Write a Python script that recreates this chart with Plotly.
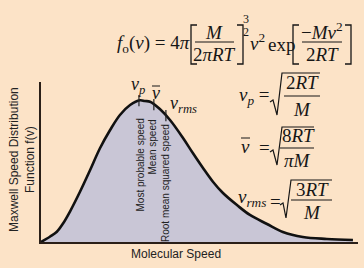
import numpy as np
import plotly.graph_objects as go

W, H = 364, 268

# ---- data (arbitrary speed units, relative f(v)) ----
speed = [0, 28, 50, 70, 91, 123, 155, 186, 218, 249, 281, 312, 328, 344, 375, 407,
         448, 479, 511, 543, 574, 618, 659, 713, 763, 826, 902, 984]
fv = [0.0, 0.033, 0.064, 0.117, 0.189, 0.314, 0.45, 0.586, 0.70, 0.794, 0.856, 0.886,
      0.881, 0.877, 0.831, 0.7625, 0.65, 0.556, 0.4625, 0.375, 0.306, 0.231, 0.169,
      0.1125, 0.0625, 0.031, 0.019, 0.0125]
marker_speeds = [309, 356, 394]
marker_names = ["Most probable speed", "Mean speed", "Root mean squared speed"]

SERIF = "Liberation Serif"
SANS = "Liberation Sans"
INK = "#161616"
BG = "#FCE3C7"


def px(x):
    return x / W


def py(y):
    return 1 - y / H


fig = go.Figure()
fig.add_trace(go.Scatter(x=speed, y=fv, mode="lines", line=dict(color="#111111", width=2.6, shape="spline"),
                         fill="tozeroy", fillcolor="#C9C6D6", hoverinfo="skip"))
my = np.interp(marker_speeds, speed, fv)
fig.add_trace(go.Scatter(x=marker_speeds, y=my, mode="markers",
                         marker=dict(symbol="line-ns-open", size=8, color="#222222",
                                     line=dict(color="#222222", width=1.2)),
                         hoverinfo="skip"))

ann = []


def T(text, x, y, size=19, family=SERIF, xa="center", ya="middle", angle=0, color=INK):
    ann.append(dict(text=text, x=px(x), y=py(y), xref="paper", yref="paper", showarrow=False,
                    xanchor=xa, yanchor=ya, textangle=angle, font=dict(family=family, size=size, color=color)))


shapes = []


def path(pts, w=1.3):
    d = "M " + " L ".join(f"{px(a):.5f},{py(b):.5f}" for a, b in pts)
    shapes.append(dict(type="path", path=d, xref="paper", yref="paper", line=dict(color=INK, width=w)))


# ---- main formula ----
T("<i>f</i><sub>o</sub>(<i>v</i>) = 4<i>π</i>", 153, 44)
path([(197, 25), (191, 25), (191, 64), (197, 64)])
T("<i>M</i>", 214, 32)
path([(195, 42), (234, 42)], 1.1)
T("2<i>πRT</i>", 214, 55)
path([(237, 25), (243, 25), (243, 64), (237, 64)])
T("3", 246, 19, size=12)
T("2", 246, 32, size=12)
T("<i>v</i><sup>2</sup>", 257, 42)
T("exp", 281, 45)
path([(299, 25), (293, 25), (293, 64), (299, 64)])
T("−<i>Mv</i><sup>2</sup>", 322, 31)
path([(302, 42), (342, 42)], 1.1)
T("2<i>RT</i>", 322, 55)
path([(345, 25), (351, 25), (351, 64), (345, 64)])

# ---- right formulas ----
T("<i>v</i><sub><i>p</i></sub> =", 254, 96)
path([(270, 102), (273, 100), (277, 115), (282, 73), (320, 73)], 1.2)
T("2<i>RT</i>", 302, 82)
path([(284, 96), (320, 96)], 1.1)
T("<i>M</i>", 302, 109)

T("<i>v</i>", 245, 146)
path([(241, 138), (250, 138)], 1.0)
T("=", 264, 147)
path([(270, 152), (273, 150), (277, 165), (282, 127), (314, 127)], 1.2)
T("8<i>RT</i>", 298, 135)
path([(280, 148), (314, 148)], 1.1)
T("<i>πM</i>", 297, 160)

T("<i>v</i><sub><i>rms</i></sub>", 252, 198)
T("=", 275, 201)
path([(280, 205), (283, 203), (286, 218), (291, 180), (332, 180)], 1.2)
T("3<i>RT</i>", 312, 189)
path([(291, 200), (332, 200)], 1.1)
T("<i>M</i>", 312, 212)

# ---- marker labels ----
T("<i>v</i><sub><i>p</i></sub>", 138, 85, size=18)
T("<i>v</i>", 156, 93, size=18)
path([(152, 86), (160, 86)], 1.0)
T("<i>v</i><sub><i>rms</i></sub>", 183, 104, size=18)

lab_x = [140, 152, 165]
lab_top = [117, 118, 122]
for name, x, t in zip(marker_names, lab_x, lab_top):
    T(name, x, t, size=10, family=SANS, ya="top", angle=-90, color="#222")

# ---- axis titles ----
T("Molecular Speed", 176, 254, size=12, family=SANS, color="#222")
T("Maxwell Speed Distribution<br>Function f(v)", 22, 160, size=12, family=SANS, angle=-90, color="#222")

fig.update_layout(
    width=W, height=H, margin=dict(l=0, r=0, t=0, b=0),
    paper_bgcolor=BG, plot_bgcolor=BG, showlegend=False,
    xaxis=dict(domain=[41 / W, 358 / W], range=[0, 1000], showline=True, linecolor="#2a1f18", linewidth=1.5,
               showgrid=False, zeroline=False, showticklabels=False, ticks=""),
    yaxis=dict(domain=[26 / H, 186 / H], range=[0, 1], showline=True, linecolor="#2a1f18", linewidth=1.5,
               showgrid=False, zeroline=False, showticklabels=False, ticks=""),
    annotations=ann, shapes=shapes,
)
fig.write_html("out.html")
